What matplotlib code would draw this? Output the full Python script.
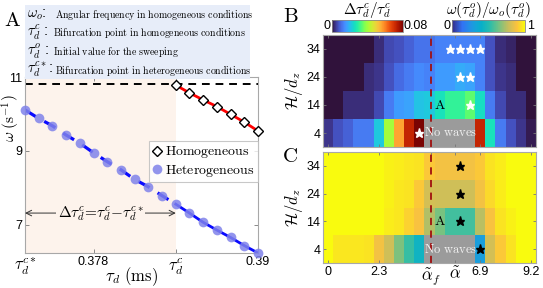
import numpy as np
import matplotlib
matplotlib.use('Agg')
import matplotlib.pyplot as plt
from matplotlib.colors import LinearSegmentedColormap, Normalize
from matplotlib.patches import Rectangle
import matplotlib.cm as mcm

plt.rcParams['mathtext.fontset'] = 'cm'
plt.rcParams['font.family'] = ['Liberation Sans', 'DejaVu Sans']

# ---------------- Panel A data ----------------
tau_het = [0.373, 0.374, 0.375, 0.376, 0.377, 0.378, 0.379, 0.380, 0.381,
           0.382, 0.383, 0.384, 0.385, 0.386, 0.387, 0.388, 0.389, 0.390]
omega_het = [10.11, 9.88, 9.68, 9.43, 9.21, 8.95, 8.71, 8.49, 8.23,
             8.03, 7.79, 7.56, 7.32, 7.07, 6.86, 6.66, 6.44, 6.24]
tau_hom = [0.384, 0.385, 0.386, 0.387, 0.388, 0.389, 0.390]
omega_hom = [10.78, 10.57, 10.38, 10.20, 9.99, 9.78, 9.54]
omega_o = 10.81
tau_c = 0.384
tau_cstar = 0.373
arrow_omega = 7.32

# ---------------- Panels B, C data ----------------
alpha_vals = [0.0, 0.46, 0.92, 1.38, 1.84, 2.3, 2.76, 3.22, 3.68, 4.14, 4.6,
              5.06, 5.52, 5.98, 6.44, 6.9, 7.36, 7.82, 8.28, 8.74, 9.2]
H_vals = [4, 14, 24, 34]
nan = np.nan
dtau_H4 = [0.004, 0.007, 0.009, 0.012, 0.012, 0.022, 0.040, 0.056, 0.072, 0.080,
           nan, nan, nan, nan, nan, 0.072, 0.026, 0.012, 0.007, 0.004, 0.001]
dtau_H14 = [0, 0, 0.003, 0.003, 0.003, 0.006, 0.012, 0.016, 0.017, 0.021, 0.022,
            0.026, 0.030, 0.030, 0.034, 0.025, 0.012, 0.006, 0.003, 0.003, 0]
dtau_H24 = [0, 0, 0, 0, 0.003, 0.004, 0.007, 0.010, 0.012, 0.014, 0.013,
            0.016, 0.016, 0.018, 0.017, 0.013, 0.007, 0.004, 0.003, 0, 0]
dtau_H34 = [0, 0, 0, 0, 0, 0.003, 0.006, 0.007, 0.009, 0.011, 0.011,
            0.013, 0.013, 0.013, 0.013, 0.013, 0.007, 0.003, 0.002, 0, 0]

wr_H4 = [1.0, 0.96, 0.96, 0.96, 0.95, 0.87, 0.79, 0.66, 0.54, 0.43,
         nan, nan, nan, nan, nan, 0.30, 0.80, 0.90, 0.95, 1.0, 1.0]
wr_H14 = [1, 1, 1, 1, 1, 1, 0.97, 0.96, 0.92, 0.88, 0.74,
          0.65, 0.56, 0.56, 0.56, 0.75, 0.88, 0.95, 0.98, 1, 1]
wr_H24 = [1, 1, 1, 1, 1, 1, 0.98, 0.96, 0.95, 0.90, 0.80,
          0.79, 0.79, 0.79, 0.79, 0.87, 0.93, 0.97, 1, 1, 1]
wr_H34 = [1, 1, 1, 1, 1, 1, 0.98, 0.97, 0.96, 0.95, 0.90,
          0.87, 0.87, 0.87, 0.87, 0.90, 0.95, 0.97, 1, 1, 1]

starB_alpha = [5.52, 5.98, 6.44, 6.9, 5.98, 6.44, 6.44, 4.14]
starB_H = [34, 34, 34, 34, 24, 24, 14, 4]
starC_alpha = [5.98, 5.98, 5.98, 6.9]
starC_H = [34, 24, 14, 4]
alpha_f = 4.65
alpha_t = 5.75

xticks_BC = [0, 2.3, alpha_f, alpha_t, 6.9, 9.2]
xticklabels_BC = ['0', '2.3', r'$\tilde{\alpha}_f$', r'$\tilde{\alpha}$', '6.9', '9.2']

parula = LinearSegmentedColormap.from_list('parula', [
    (0.00, (0.2081, 0.1663, 0.5292)),
    (0.14, (0.1959, 0.4478, 0.9586)),
    (0.25, (0.1329, 0.5723, 0.8953)),
    (0.32, (0.0851, 0.6386, 0.8494)),
    (0.40, (0.0265, 0.6857, 0.7896)),
    (0.52, (0.1636, 0.7404, 0.6719)),
    (0.64, (0.4436, 0.7611, 0.5151)),
    (0.77, (0.7718, 0.7451, 0.3665)),
    (0.89, (0.9871, 0.7619, 0.2411)),
    (1.00, (0.9763, 0.9831, 0.0538))])
turbo = plt.get_cmap('turbo').copy()
turbo.set_bad('#9b9b9b')
parula.set_bad('#9b9b9b')

W, H = 543, 288
fig = plt.figure(figsize=(W / 100, H / 100), dpi=100)

def fx(px):
    return px / W

def fy(py):
    return 1 - py / H

def rm(s):
    return r'$\mathrm{' + s.replace(' ', r'\ ') + '}$'

frame_col = '#a8a8a8'

# ---------------- Panel A ----------------
axA = fig.add_axes([fx(25), fy(253), fx(233), (253 - 77) / H])
axA.set_xlim(tau_cstar, 0.390)
axA.set_ylim(6.24, 11.0)
axA.axvspan(tau_cstar, tau_c, color='#fdf3ec', zorder=0, lw=0)
axA.axhline(omega_o, color='black', ls=(0, (4, 3)), lw=1.4, zorder=2)
i_c = tau_het.index(tau_c)
axA.plot(tau_het[:i_c + 1], omega_het[:i_c + 1], color='#0a0aff', ls=(0, (4, 3)),
         lw=2.3, zorder=2)
axA.plot(tau_het[i_c:], omega_het[i_c:], color='#0a0aff', ls='-', lw=2.0, zorder=2)
axA.plot(tau_hom, omega_hom, color='#ff0000', lw=2.0, zorder=2)
axA.plot(tau_hom, omega_hom, ls='none', marker='D', ms=5.5, mfc='white', mec='black',
         mew=1.0, zorder=4, clip_on=False, label=rm('Homogeneous'))
axA.plot(tau_het, omega_het, ls='none', marker='o', ms=7, mfc='#7f82ea', mec='none',
         alpha=0.85, zorder=3, clip_on=False, label=rm('Heterogeneous'))
axA.annotate('', xy=(tau_cstar, arrow_omega), xytext=(tau_c, arrow_omega),
             arrowprops=dict(arrowstyle='<->', color='#333333', lw=0.7,
                             shrinkA=0, shrinkB=0), zorder=3)
axA.text((tau_cstar + tau_c) / 2, arrow_omega,
         r'$\Delta\tau_d^c\!=\!\tau_d^c\!-\!\tau_d^{c*}$', fontsize=11,
         ha='center', va='center', zorder=4,
         bbox=dict(facecolor='#fdf3ec', edgecolor='none', pad=1))
axA.set_yticks([7, 9, 11])
axA.set_yticklabels(['7', '9', '11'], fontsize=9)
axA.set_xticks([tau_cstar, 0.378, tau_c, 0.390])
axA.set_xticklabels([r'$\tau_d^{c*}$', '0.378', r'$\tau_d^{c}$', '0.39'], fontsize=9)
for lab in axA.get_xticklabels():
    if lab.get_text().startswith('$'):
        lab.set_fontsize(12)
axA.tick_params(direction='in', top=True, right=True, length=3, width=0.6,
                color='#777777', pad=2)
for s in axA.spines.values():
    s.set_color(frame_col)
    s.set_linewidth(0.8)
fig.text(fx(132), fy(277), r'$\tau_d\ (\mathrm{ms})$', fontsize=12,
         ha='center', va='center')
fig.text(fx(11), fy(118), r'$\omega\ (\mathrm{s}^{-1})$', fontsize=11,
         ha='center', va='center', rotation=90)
leg = axA.legend(loc='upper right', bbox_to_anchor=(1.0, (253 - 141) / 176),
                 fontsize=10, frameon=True, fancybox=False, handlelength=0.6,
                 handletextpad=0.3, borderpad=0.25, labelspacing=0.15,
                 borderaxespad=0)
leg.get_frame().set_edgecolor('#bbbbbb')
leg.get_frame().set_linewidth(0.8)

# text box on top
fig.patches.append(Rectangle((fx(25), fy(79)), fx(225), (79 - 5) / H,
                             transform=fig.transFigure, facecolor='#e7edf9',
                             edgecolor='none', zorder=0))
box_lines = [(r'$\omega_o$:', 'Angular frequency in homogeneous conditions', 15, 55),
             (r'$\tau_d^c$ :', 'Bifurcation point in homogeneous conditions', 33, 53),
             (r'$\tau_d^o$ :', 'Initial value for the sweeping', 52, 53),
             (r'$\tau_d^{c*}$:', 'Bifurcation point in heterogeneous conditions', 70, 55)]
for sym, desc, ypx, xpx in box_lines:
    fig.text(fx(27), fy(ypx), sym, fontsize=10.5, ha='left', va='center')
    fig.text(fx(xpx), fy(ypx), rm(desc), fontsize=7.1, ha='left', va='center')

fig.text(fx(12), fy(20), rm('A'), fontsize=15, ha='center', va='center')
fig.text(fx(291), fy(17), rm('B'), fontsize=15, ha='center', va='center')
fig.text(fx(290), fy(157), rm('C'), fontsize=15, ha='center', va='center')

# ---------------- Panels B, C ----------------
a = np.array(alpha_vals)
step = a[1] - a[0]
x_edges = np.concatenate([a - step / 2, [a[-1] + step / 2]])
h = np.array(H_vals, dtype=float)
y_edges = np.concatenate([h - 5, [h[-1] + 5]])

B = np.array([dtau_H4, dtau_H14, dtau_H24, dtau_H34], dtype=float)
C = np.array([wr_H4, wr_H14, wr_H24, wr_H34], dtype=float)

def heat_axes(rect, data, cmap, vmax, sx, sy, star_col, show_x):
    ax = fig.add_axes(rect)
    ax.pcolormesh(x_edges, y_edges, np.ma.masked_invalid(data), cmap=cmap,
                  vmin=0, vmax=vmax, shading='flat')
    ax.set_xlim(x_edges[0], x_edges[-1])
    ax.set_ylim(y_edges[0], y_edges[-1])
    ax.axvline(alpha_f, color='#a01010', ls=(0, (4, 3)), lw=1.3)
    ax.plot(sx, sy, ls='none', marker='*', ms=6.5, mfc=star_col, mec=star_col)
    ax.text(5.06, 14, rm('A'), fontsize=10, ha='center', va='center')
    ax.text(5.55, 4, rm('No waves'), fontsize=9, ha='center', va='center',
            color='#f2f2f2')
    ax.set_yticks(H_vals)
    ax.set_yticklabels([str(v) for v in H_vals], fontsize=9)
    ax.set_xticks(xticks_BC)
    if show_x:
        ax.set_xticklabels(xticklabels_BC, fontsize=9)
        for lab in ax.get_xticklabels():
            if lab.get_text().startswith('$'):
                lab.set_fontsize(12)
    else:
        ax.set_xticklabels([])
    ax.tick_params(direction='in', top=True, right=True, length=2.5, width=0.6,
                   color='#777777', pad=2)
    for s in ax.spines.values():
        s.set_color(frame_col)
        s.set_linewidth(0.8)
    ax.set_ylabel(r'$\mathcal{H}/d_z$', fontsize=12, labelpad=1)
    return ax

axB = heat_axes([fx(323), fy(147), fx(213), 112 / H], B, turbo, 0.08,
                starB_alpha, starB_H, 'white', False)
axC = heat_axes([fx(323), fy(263), fx(213), 111 / H], C, parula, 1.0,
                starC_alpha, starC_H, 'black', True)

# colorbars
caxL = fig.add_axes([fx(332), fy(32), fx(71), 12 / H])
cbL = fig.colorbar(mcm.ScalarMappable(norm=Normalize(0, 0.08), cmap=turbo),
                   cax=caxL, orientation='horizontal')
caxR = fig.add_axes([fx(452), fy(32), fx(73), 12 / H])
cbR = fig.colorbar(mcm.ScalarMappable(norm=Normalize(0, 1), cmap=parula),
                   cax=caxR, orientation='horizontal')
for cb in (cbL, cbR):
    cb.set_ticks([])
    cb.outline.set_edgecolor('#888888')
    cb.outline.set_linewidth(0.6)
fig.text(fx(330), fy(26), '0', fontsize=9, ha='right', va='center')
fig.text(fx(404), fy(26), '0.08', fontsize=9, ha='left', va='center')
fig.text(fx(450), fy(26), '0', fontsize=9, ha='right', va='center')
fig.text(fx(527), fy(26), '1', fontsize=9, ha='left', va='center')
fig.text(fx(367), fy(10), r'$\Delta\tau_d^c/\tau_d^c$', fontsize=11,
         ha='center', va='center')
fig.text(fx(488), fy(10), r'$\omega(\tau_d^o)/\omega_o(\tau_d^o)$', fontsize=11,
         ha='center', va='center')

fig.savefig('out.png', dpi=100)
